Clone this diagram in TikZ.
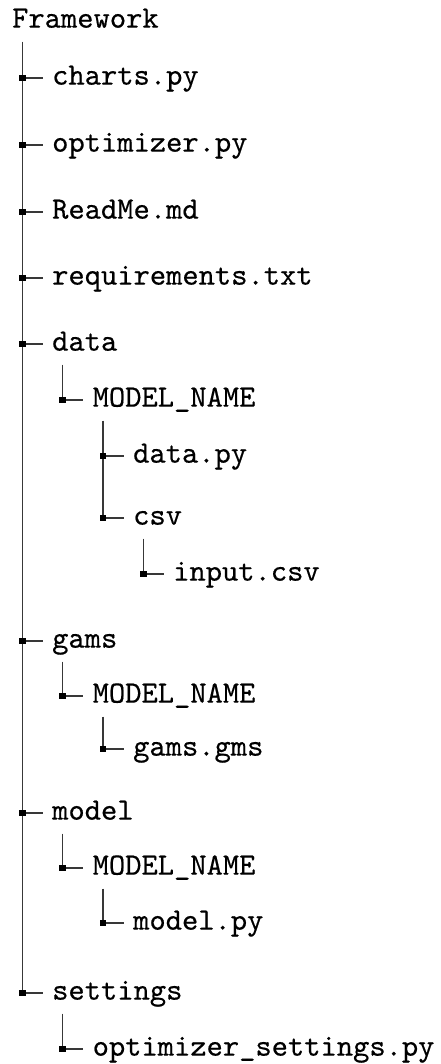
\documentclass[tikz,border=0pt]{standalone}
\usepackage{fontspec}
\newfontfamily\treefont{lmmono10-regular.otf}[FakeBold=0.4]
\tikzset{
  lbl/.style={anchor=west, inner sep=0pt, text height=21.1pt, text depth=7.8pt,
    font=\fontsize{31}{37}\selectfont\treefont},
  edge/.style={draw=black!78, line width=1.6pt},
  sqr/.style={fill=black},
}
\newcommand\fsbranch[2]{%
  \draw[edge] ([xshift=10.5pt]#1.south west |- #2.west) -- ([xshift=-9.5pt]#2.west);
  \fill[sqr] ([xshift=10.5pt]#1.south west |- #2.west) ++(-3.2pt,-3.2pt) rectangle ++(6.4pt,6.4pt);}
\newcommand\fstrunk[2]{%
  \draw[edge] ([xshift=10.5pt,yshift=-6pt]#1.south west) -- ([xshift=10.5pt]#1.south west |- #2.west);}
\begin{document}
\begin{tikzpicture}[x=1pt,y=-1pt]
\useasboundingbox (0,0) rectangle (440,1064);
\node[lbl] (fw) at (12,21) {Framework};
\node[lbl] (charts) at (52,78) {charts.py};
\node[lbl] (optim) at (52,145) {optimizer.py};
\node[lbl] (readme) at (52,212) {ReadMe.md};
\node[lbl] (req) at (52,278) {requirements.txt};
\node[lbl] (data) at (52,344) {data};
\node[lbl] (dmn) at (92.5,400) {MODEL\_NAME};
\node[lbl] (datapy) at (133,456) {data.py};
\node[lbl] (csv) at (133,518) {csv};
\node[lbl] (inputcsv) at (173,574) {input.csv};
\node[lbl] (gams) at (52,641) {gams};
\node[lbl] (gmn) at (92.5,696) {MODEL\_NAME};
\node[lbl] (gamsgms) at (133,749) {gams.gms};
\node[lbl] (model) at (52,813) {model};
\node[lbl] (mmn) at (92.5,868) {MODEL\_NAME};
\node[lbl] (modelpy) at (133,923) {model.py};
\node[lbl] (settings) at (52,993) {settings};
\node[lbl] (optset) at (92.5,1049) {optimizer\_settings.py};
% trunks
\fstrunk{fw}{settings}
\fstrunk{data}{dmn}
\fstrunk{dmn}{csv}
\fstrunk{csv}{inputcsv}
\fstrunk{gams}{gmn}
\fstrunk{gmn}{gamsgms}
\fstrunk{model}{mmn}
\fstrunk{mmn}{modelpy}
\fstrunk{settings}{optset}
% branches
\fsbranch{fw}{charts}
\fsbranch{fw}{optim}
\fsbranch{fw}{readme}
\fsbranch{fw}{req}
\fsbranch{fw}{data}
\fsbranch{fw}{gams}
\fsbranch{fw}{model}
\fsbranch{fw}{settings}
\fsbranch{data}{dmn}
\fsbranch{dmn}{datapy}
\fsbranch{dmn}{csv}
\fsbranch{csv}{inputcsv}
\fsbranch{gams}{gmn}
\fsbranch{gmn}{gamsgms}
\fsbranch{model}{mmn}
\fsbranch{mmn}{modelpy}
\fsbranch{settings}{optset}
\end{tikzpicture}
\end{document}
